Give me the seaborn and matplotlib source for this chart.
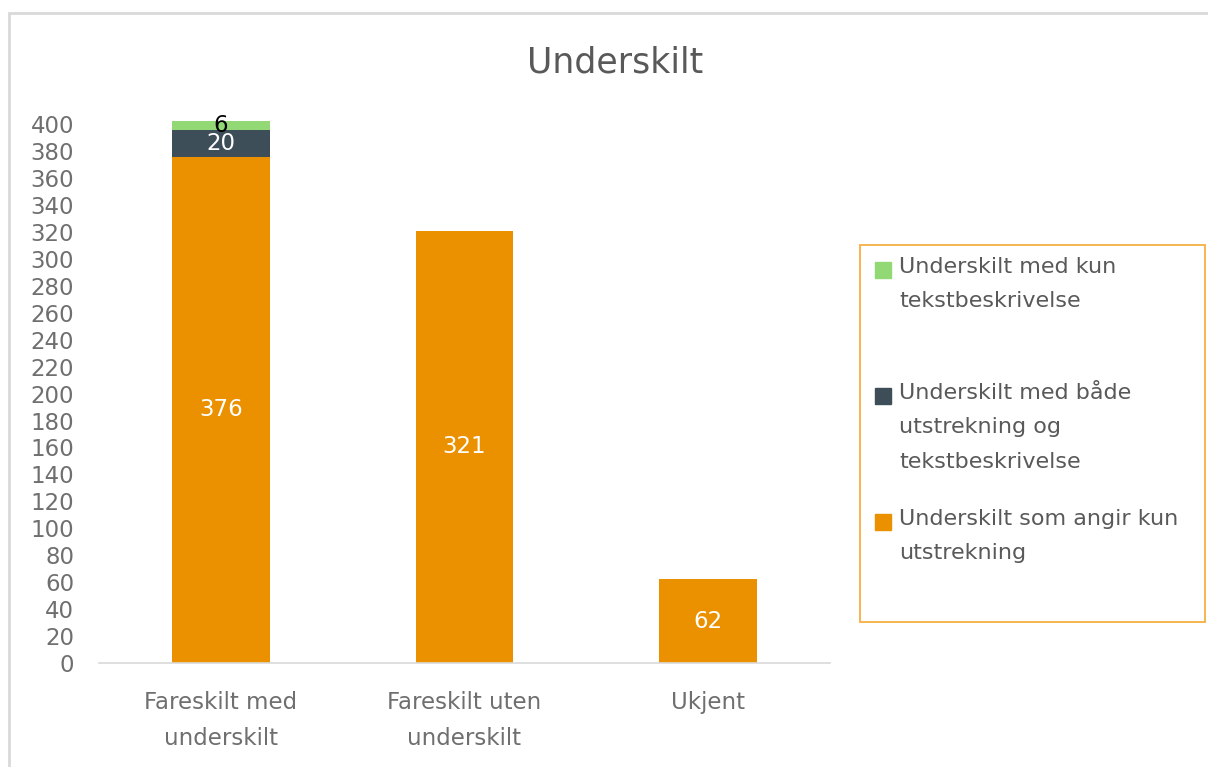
import matplotlib
matplotlib.use("Agg")
import matplotlib.pyplot as plt
import matplotlib.patches as mpatches
import pandas as pd
import seaborn as sns

# Data
categories = ["Fareskilt med\nunderskilt", "Fareskilt uten\nunderskilt", "Ukjent"]
kun_utstrekning = [376, 321, 62]
begge = [20, 0, 0]
kun_tekst = [6, 0, 0]

series_names = [
    "Underskilt med kun\ntekstbeskrivelse",
    "Underskilt med både\nutstrekning og\ntekstbeskrivelse",
    "Underskilt som angir kun\nutstrekning",
]
series_colors = ["#92d975", "#3e4e59", "#eb9100"]
grey = "#595959"
tick_grey = "#6f6f6f"

df = pd.DataFrame({
    "kategori": categories,
    "utstrekning": kun_utstrekning,
    "begge": begge,
    "tekst": kun_tekst,
})
# cumulative heights for overlay stacking
df["cum_begge"] = df["utstrekning"] + df["begge"]
df["cum_tekst"] = df["cum_begge"] + df["tekst"]

sns.set_style("white")
plt.rcParams["font.family"] = ["DejaVu Sans"]

fig = plt.figure(figsize=(12.08, 7.67), dpi=100)
ax = fig.add_axes([0.082, 0.1356, 0.605, 0.7025])

# draw tallest first so the lower segments sit on top
for col, color in zip(["cum_tekst", "cum_begge", "utstrekning"], series_colors):
    sns.barplot(data=df, x="kategori", y=col, color=color, width=0.4,
                saturation=1, ax=ax, clip_on=False, linewidth=0)

ax.set_ylim(0, 400)
ax.set_xlim(-0.5, 2.5)
ax.set_yticks(range(0, 401, 20))
ax.set_xlabel("")
ax.set_ylabel("")
ax.tick_params(axis="y", length=0, labelsize=16.5, labelcolor=tick_grey, pad=18)
ax.tick_params(axis="x", length=0, labelsize=16.5, labelcolor=tick_grey, pad=20)
for lab in ax.get_yticklabels():
    lab.set_horizontalalignment("right")
for lab in ax.get_xticklabels():
    lab.set_linespacing(1.75)
sns.despine(ax=ax, left=True)
ax.spines["bottom"].set_color("#d9d9d9")
ax.spines["bottom"].set_linewidth(1.2)

# data labels centered on each segment
for i in range(len(categories)):
    u = df["utstrekning"][i]
    ax.text(i, u / 2, str(u), ha="center", va="center", color="white", fontsize=16.5)
    if df["begge"][i] > 0:
        b = df["begge"][i]
        ax.text(i, u + b / 2, str(b), ha="center", va="center", color="white", fontsize=16.5)
    if df["tekst"][i] > 0:
        t = df["tekst"][i]
        ax.text(i, df["cum_begge"][i] + t / 2, str(t), ha="center", va="center",
                color="black", fontsize=16.5)

fig.text(0.509, 0.919, "Underskilt", ha="center", va="center", fontsize=25, color=grey)

# legend box drawn by hand so markers align with the first text line
W, H = 1208, 767
fig.patches.append(mpatches.Rectangle((860 / W, 1 - 622 / H), 345 / W, 377 / H,
                                      transform=fig.transFigure, fill=False,
                                      edgecolor="#f4b042", linewidth=1.3))
for name, color, ytop in zip(series_names, series_colors, [270, 396, 522]):
    fig.patches.append(mpatches.Rectangle((875 / W, 1 - (ytop + 8) / H), 16 / W, 16 / H,
                                          transform=fig.transFigure, color=color))
    fig.text(899 / W, 1 - (ytop - 13) / H, name, ha="left", va="top", fontsize=16,
             color=grey, linespacing=1.9)

# outer chart frame
fig.patches.append(mpatches.Rectangle((9 / W, -0.05), 1.2, 1 - 13 / H + 0.05,
                                      transform=fig.transFigure, fill=False,
                                      edgecolor="#d9d9d9", linewidth=2))

fig.savefig("out.png", dpi=100)
